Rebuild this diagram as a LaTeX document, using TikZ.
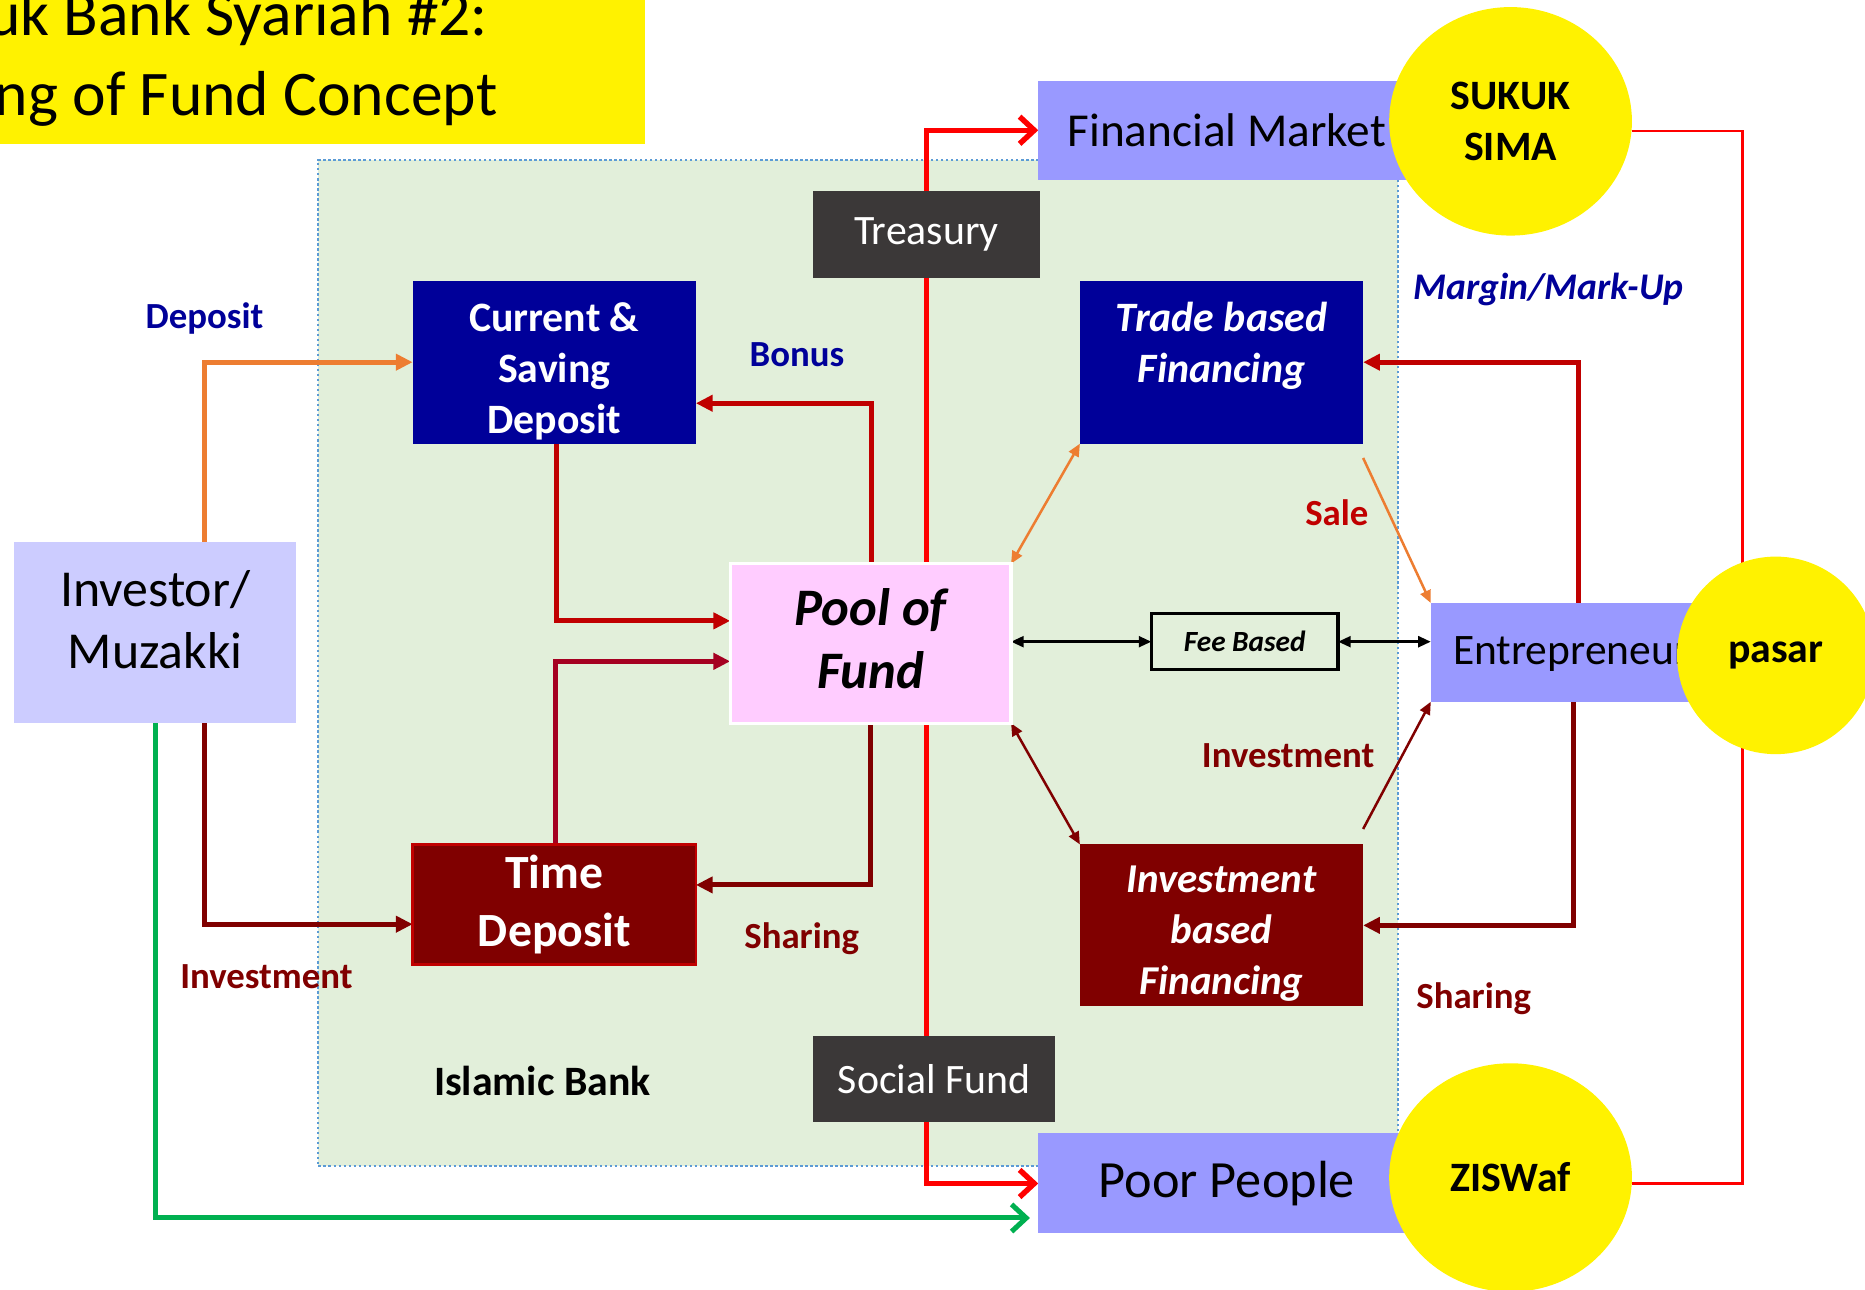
\documentclass[tikz,border=0pt]{standalone}
\usepackage{fontspec}
\setmainfont{Carlito}
\usetikzlibrary{arrows.meta,calc,shapes.geometric}

\definecolor{bankbg}{HTML}{E2EFDA}
\definecolor{bankrim}{HTML}{5B9BD5}
\definecolor{navy}{HTML}{000099}
\definecolor{maroon}{HTML}{800000}
\definecolor{crimson}{HTML}{C00000}
\definecolor{wine}{HTML}{A50021}
\definecolor{lilac}{HTML}{9999FF}
\definecolor{palelilac}{HTML}{CCCCFF}
\definecolor{rosy}{HTML}{FFCCFF}
\definecolor{charcoal}{HTML}{3B3838}
\definecolor{tangerine}{HTML}{ED7D31}
\definecolor{leaf}{HTML}{00B050}

\pgfdeclarelayer{back}
\pgfdeclarelayer{lines}
\pgfsetlayers{back,lines,main}

\newcommand{\setfs}[2]{\fontsize{#1}{#2}\selectfont}

\begin{document}
\begin{tikzpicture}[x=0.01cm, y=-0.01cm, >=Triangle, thick,
    box/.style={rectangle, inner sep=0pt, outer sep=0pt, align=center},
    boxtext/.style={inner sep=0pt, align=center},
    bluebox/.style={box, fill=navy, text=white, minimum width=2.38cm, minimum height=1.37cm},
    redbox/.style={box, fill=maroon, text=white, minimum width=2.38cm},
    darkbox/.style={box, fill=charcoal, text=white, font=\setfs{10}{12}},
    lilacbox/.style={box, fill=lilac},
    sun/.style={ellipse, fill=yellow, inner sep=0pt, outer sep=0pt, align=center, font=\setfs{10}{12.2}\bfseries},
    tag/.style={font=\setfs{8.8}{10.5}\bfseries},
    fat/.style={line width=1.2pt},
    fine/.style={line width=0.6pt},
    fattip/.style={-{Triangle[length=4pt,width=3.8pt]}},
    finetip/.style={-{Triangle[length=3pt,width=2.6pt]}},
    twotip/.style={{Triangle[length=3pt,width=2.6pt]}-{Triangle[length=3pt,width=2.6pt]}},
    barbtip/.style={-{Straight Barb[length=3.5pt,width=6.5pt]}}]

    \useasboundingbox (0,0) rectangle (1568,1084);

    % 伊斯兰银行区域
    \begin{pgfonlayer}{back}
        \node[box, fill=bankbg, draw=bankrim, line width=0.5pt, dash pattern=on 0.6pt off 0.6pt,
              minimum width=9.07cm, minimum height=8.45cm] (bank) at (721.5,557.5) {};
    \end{pgfonlayer}

    % 标题
    \fill[yellow] (0,0) rectangle (542,121);
    \node[anchor=base east, inner sep=0pt, font=\setfs{15.2}{18}] (title1) at (411,30) {uk Bank Syariah \#2:};
    \node[anchor=base east, inner sep=0pt, font=\setfs{15.2}{18}] (title2) at (419,97) {ng of Fund Concept};

    % 外部市场
    \node[lilacbox, minimum width=3.17cm, minimum height=0.83cm, font=\setfs{11.3}{13}] (fm) at (1031.5,109.5) {Financial Market};
    \node[sun, minimum width=2.04cm, minimum height=1.92cm] (sukuk) at (1270,102) {SUKUK\\SIMA};
    \node[darkbox, minimum width=1.9cm, minimum height=0.73cm] (treas) at (779,197.5) {Treasury};

    % 银行内部
    \node[bluebox] (csd) at (466,304.5) {};
    \node[boxtext, text=white, font=\setfs{10}{12.2}\bfseries] (csdtext) at (466,312) {Current \&\\Saving\\Deposit};
    \node[bluebox] (trade) at (1027,304.5) {};
    \node[boxtext, text=white, font=\setfs{10}{12.2}\bfseries\itshape] (tradetext) at (1027,291) {Trade based\\Financing};
    \node[box, fill=rosy, draw=white, line width=0.8pt, minimum width=2.36cm, minimum height=1.34cm] (pool) at (732,541) {};
    \node[boxtext, font=\setfs{12.6}{15}\bfseries\itshape] (pooltext) at (732,537) {Pool of\\Fund};
    \node[redbox, draw=crimson, line width=0.6pt, minimum height=1.01cm, font=\setfs{11.4}{14}\bfseries] (td) at (466,760.5) {Time\\Deposit};
    \node[redbox, minimum height=1.36cm] (invf) at (1027,778) {};
    \node[boxtext, text=white, font=\setfs{9.8}{12.2}\bfseries\itshape] (invftext) at (1027,785) {Investment\\based\\Financing};
    \node[box, draw, line width=0.8pt, minimum width=1.57cm, minimum height=0.47cm,
          font=\setfs{7}{8}\bfseries\itshape] (fee) at (1046.5,539.5) {Fee Based};
    \node[darkbox, minimum width=2.03cm, minimum height=0.72cm] (social) at (785.5,907) {Social Fund};

    % 投资者与企业家
    \node[box, fill=palelilac, minimum width=2.37cm, minimum height=1.52cm] (inv) at (130.5,532) {};
    \node[boxtext, font=\setfs{12.4}{15}] (invtext) at (130.5,521) {Investor/\\Muzakki};
    \node[lilacbox, minimum width=2.44cm, minimum height=0.83cm] (ent) at (1325,548.5) {};
    \node[boxtext, anchor=west, font=\setfs{10.4}{12}] (enttext) at (1221,550) {Entrepreneur};
    \node[sun, minimum width=1.66cm, minimum height=1.66cm] (pasar) at (1493,551) {pasar};
    \node[lilacbox, minimum width=3.17cm, minimum height=0.84cm, font=\setfs{12.5}{15}] (poor) at (1031.5,995) {Poor People};
    \node[sun, minimum width=2.04cm, minimum height=1.92cm] (zis) at (1270,990) {ZISWaf};

    % 标签
    \node[tag, text=navy] (lbdep) at (172,268) {Deposit};
    \node[tag, text=navy] (lbbonus) at (670,298) {Bonus};
    \node[tag, text=navy, font=\setfs{9}{10.5}\bfseries\itshape] (lbmargin) at (1302,243) {Margin/Mark-Up};
    \node[tag, text=crimson] (lbsale) at (1124,431) {Sale};
    \node[tag, text=maroon] (lbinvr) at (1083,635) {Investment};
    \node[tag, text=maroon] (lbinvl) at (224,821) {Investment};
    \node[tag, text=maroon] (lbshl) at (674,789) {Sharing};
    \node[tag, text=maroon] (lbshr) at (1239,840) {Sharing};
    \node[font=\setfs{10}{12}\bfseries] (lbbank) at (456,909) {Islamic Bank};

    \begin{pgfonlayer}{lines}
        % 资金进出
        \draw[fat, tangerine, fattip] ([xshift=4.15mm]inv.north) |- (csd.west);
        \draw[fat, maroon, fattip] ([xshift=4.15mm]inv.south) |- ([yshift=-1.65mm]td.west);
        \draw[fat, leaf, barbtip, shorten >=0.7mm] (inv.south) |- ([yshift=-2.9mm]poor.west);
        \draw[fat, crimson, fattip] ([xshift=0.2mm]csd.south) |- ([yshift=1.9mm]pool.west);
        \draw[fat, crimson, fattip] ([xshift=0.1mm]pool.north) |- ([yshift=-3.45mm]csd.east);
        \draw[fat, wine, fattip] ([xshift=0.1mm]td.north) |- ([yshift=-1.5mm]pool.west);
        \draw[fat, maroon, fattip] (pool.south) |- ([yshift=1.65mm]td.east);

        % 国库与社会基金
        \draw[line width=1.3pt, red, barbtip] (treas.center |- pool.center) |- (fm.west);
        \draw[line width=1.3pt, red, barbtip] (treas.center |- pool.center) |- (poor.west);

        % 融资
        \draw[fine, tangerine, twotip] (pool.north east) -- (trade.south west);
        \draw[fine, tangerine, finetip] ([yshift=-1.2mm]trade.south east) -- (ent.north west);
        \draw[fine, black, twotip] (fee.west -| pool.east) -- (fee.west);
        \draw[fine, black, twotip] (fee.east) -- (fee.east -| ent.west);
        \draw[fine, maroon, twotip] (pool.south east) -- (invf.north west);
        \draw[fine, maroon, finetip] ([yshift=1.3mm]invf.north east) -- (ent.south west);
        \draw[fat, crimson, fattip] ([xshift=0.2mm]ent.north) |- (trade.east);
        \draw[fat, maroon, fattip] ([xshift=-0.2mm]ent.south) |- (invf.east);

        % 外圈
        \draw[fine, red] ([yshift=-0.8mm]sukuk.east) -- ++(93,0) |- ([yshift=-0.5mm]zis.east);
    \end{pgfonlayer}
\end{tikzpicture}
\end{document}
